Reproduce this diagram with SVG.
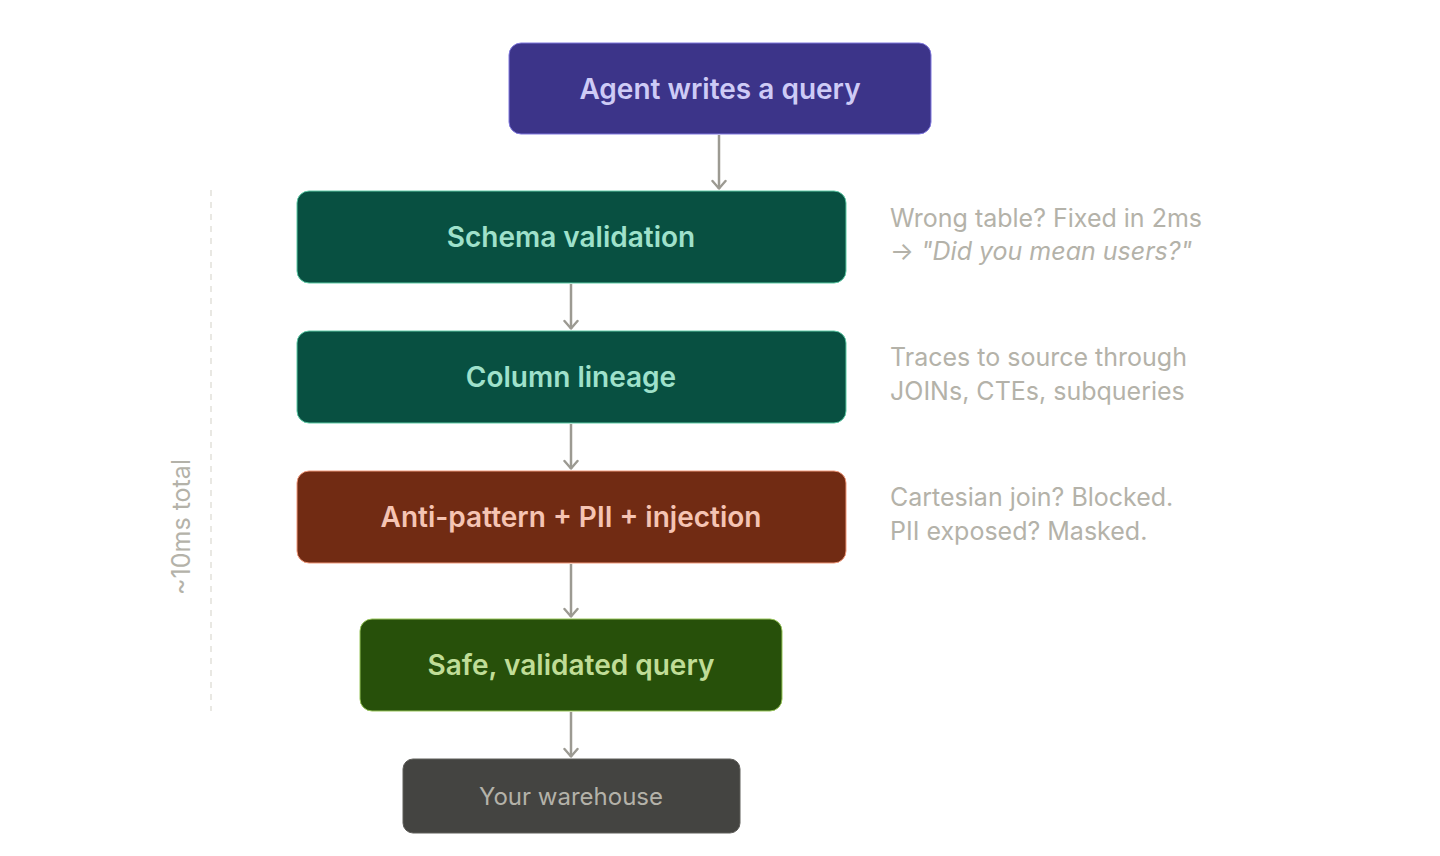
<svg xmlns="http://www.w3.org/2000/svg" width="1440" height="856" viewBox="0 0 1440 856">
<style>
.lbl{font-family:Inter,"Noto Sans","Liberation Sans",sans-serif;font-size:28px;font-weight:600;text-anchor:middle}
.note{font-family:Inter,"Noto Sans","Liberation Sans",sans-serif;font-size:25px;fill:#B4B2A9}
.conn{stroke:#9C9A92;stroke-width:2.5;fill:none}
</style>
<defs>
<marker id="arr" viewBox="0 0 16 12" refX="8" refY="11" markerWidth="16" markerHeight="12" markerUnits="userSpaceOnUse" orient="0">
<path d="M1.5 3 L8 10.5 L14.5 3" fill="none" stroke="#9C9A92" stroke-width="2.4" stroke-linecap="round" stroke-linejoin="round"/>
</marker>
</defs>
<rect width="1440" height="856" fill="#FFFFFF"/>
<g id="connectors">
<line class="conn" x1="719" y1="135" x2="719" y2="189" marker-end="url(#arr)"/>
<line class="conn" x1="571" y1="284" x2="571" y2="329" marker-end="url(#arr)"/>
<line class="conn" x1="571" y1="424" x2="571" y2="469" marker-end="url(#arr)"/>
<line class="conn" x1="571" y1="564" x2="571" y2="617" marker-end="url(#arr)"/>
<line class="conn" x1="571" y1="712" x2="571" y2="757" marker-end="url(#arr)"/>
</g>
<g id="timing">
<line x1="211" y1="190" x2="211" y2="711" stroke="#D3D1C7" stroke-width="1" stroke-dasharray="6 6"/>
<text class="note" transform="translate(190 527) rotate(-90)" text-anchor="middle">~10ms total</text>
</g>
<g id="agent">
<rect x="509" y="43" width="422" height="91" rx="12" fill="#3C3489" stroke="#7F77DD" stroke-width="1"/>
<text class="lbl" x="720" y="99" fill="#CECBF6">Agent writes a query</text>
</g>
<g id="schema">
<rect x="297" y="191" width="549" height="92" rx="12" fill="#085041" stroke="#5DCAA5" stroke-width="1"/>
<text class="lbl" x="571" y="247" fill="#9FE1CB">Schema validation</text>
</g>
<g id="lineage">
<rect x="297" y="331" width="549" height="92" rx="12" fill="#085041" stroke="#5DCAA5" stroke-width="1"/>
<text class="lbl" x="571" y="387" fill="#9FE1CB">Column lineage</text>
</g>
<g id="antipattern">
<rect x="297" y="471" width="549" height="92" rx="12" fill="#712B13" stroke="#F0997B" stroke-width="1"/>
<text class="lbl" x="571" y="527" fill="#F5C4B3">Anti-pattern + PII + injection</text>
</g>
<g id="safe">
<rect x="360" y="619" width="422" height="92" rx="12" fill="#27500A" stroke="#97C459" stroke-width="1"/>
<text class="lbl" x="571" y="675" fill="#C0DD97">Safe, validated query</text>
</g>
<g id="warehouse">
<rect x="403" y="759" width="337" height="74" rx="10" fill="#444441" stroke="#5F5E5A" stroke-width="1"/>
<text x="571" y="805" font-family="Inter,'Noto Sans','Liberation Sans',sans-serif" font-size="24" text-anchor="middle" fill="#B4B2A9">Your warehouse</text>
</g>
<g id="notes">
<text class="note" x="890" y="227">Wrong table? Fixed in 2ms</text>
<text class="note" x="890" y="260">→ <tspan font-style="italic">"Did you mean users?"</tspan></text>
<text class="note" x="890" y="366">Traces to source through</text>
<text class="note" x="890" y="400">JOINs, CTEs, subqueries</text>
<text class="note" x="890" y="506">Cartesian join? Blocked.</text>
<text class="note" x="890" y="540">PII exposed? Masked.</text>
</g>
</svg>
